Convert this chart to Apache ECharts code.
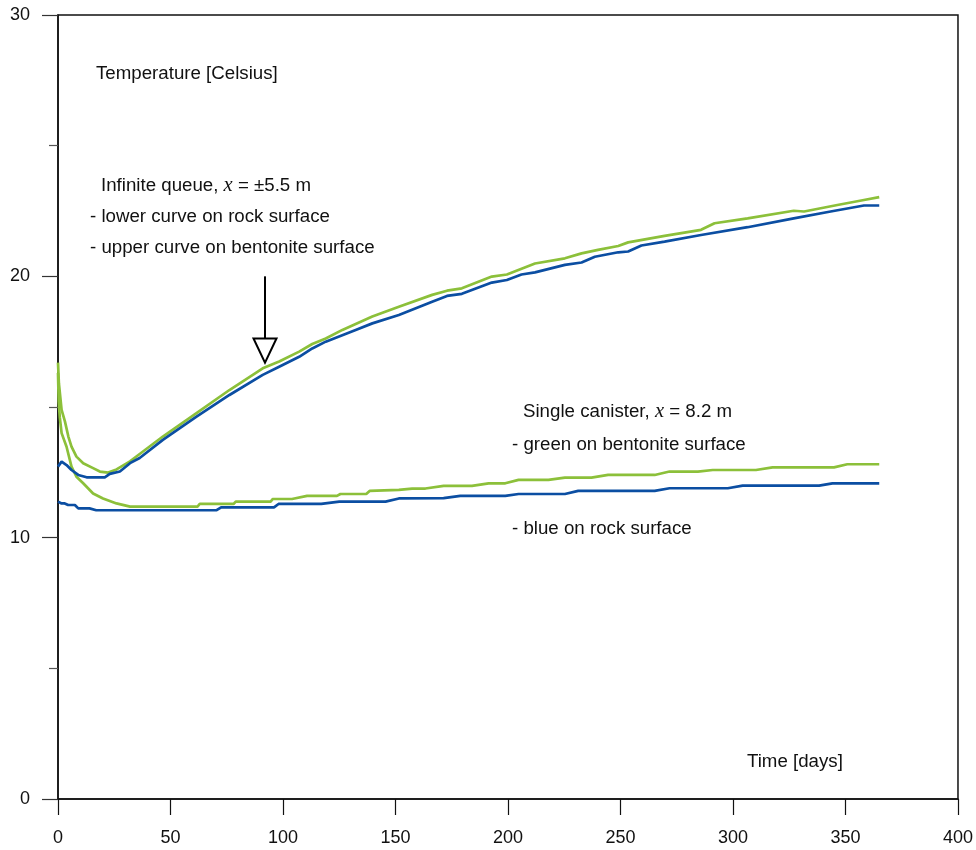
<!DOCTYPE html>
<html>
<head>
<meta charset="utf-8">
<script src="https://cdn.jsdelivr.net/npm/echarts@6/dist/echarts.min.js"></script>
<style>
  html, body { margin: 0; padding: 0; background: #fff; }
  #chart { width: 976px; height: 850px; }
</style>
</head>
<body>
<div id="chart"></div>
<script>
// Axis ranges and ticks
const xTicks = [0, 50, 100, 150, 200, 250, 300, 350, 400];
const yTicks = [0, 10, 20, 30];

// Infinite queue, x = ±5.5 m — bentonite surface (green, upper curve)
const queueBentonite = [
  [0, 16.7], [0.4, 15.9], [1.6, 14.89], [3.1, 14.44], [4.6, 13.87], [6, 13.48],
  [8.2, 13.1], [11.2, 12.85], [15.6, 12.66], [18.6, 12.53], [22.3, 12.49], [26, 12.61],
  [32, 12.92], [36.3, 13.2], [46.6, 13.87], [61.4, 14.76], [76.2, 15.65], [91, 16.48],
  [98.3, 16.74], [107.2, 17.12], [113, 17.41], [119, 17.62], [126.4, 17.95], [139.7, 18.46],
  [151.5, 18.84], [166.3, 19.29], [172.9, 19.45], [179.5, 19.54], [192.8, 19.99], [199.5, 20.07],
  [212, 20.49], [225.3, 20.69], [232.7, 20.88], [240, 21.01], [249, 21.16], [253.4, 21.3],
  [269.6, 21.55], [285.8, 21.78], [291.8, 22.03], [306.5, 22.22], [327, 22.51], [331.6, 22.48],
  [346.4, 22.73], [358.2, 22.92], [365, 23.03]
];

// Infinite queue — rock surface (blue, lower curve)
const queueRock = [
  [0, 12.72], [1.6, 12.91], [3.8, 12.78], [6, 12.59], [9, 12.4], [12.7, 12.31],
  [20.8, 12.31], [23, 12.44], [27.5, 12.53], [32, 12.85], [36.3, 13.05], [46.6, 13.74],
  [61.4, 14.62], [76.2, 15.46], [91, 16.23], [98.3, 16.54], [107.2, 16.92], [113, 17.24],
  [119, 17.5], [132.3, 17.95], [139.7, 18.2], [151.5, 18.52], [166.3, 19.03], [172.9, 19.25],
  [179.5, 19.33], [192.8, 19.76], [199.5, 19.86], [206, 20.07], [212, 20.15], [225.3, 20.44],
  [232.7, 20.53], [238.6, 20.75], [249, 20.92], [253.4, 20.95], [259.3, 21.18], [269.6, 21.33],
  [285.8, 21.58], [306.5, 21.88], [327, 22.22], [343.4, 22.48], [358.2, 22.71], [365, 22.71]
];

// Single canister, x = 8.2 m — bentonite surface (green)
const canisterBentonite = [
  [0, 16.3], [0.3, 15.2], [0.8, 14.6], [1.6, 14.0], [3.8, 13.48], [6, 12.72],
  [8.2, 12.33], [11.2, 12.08], [15.6, 11.69], [20, 11.5], [26, 11.31], [32, 11.19],
  [62, 11.19], [63, 11.29], [78, 11.29], [79, 11.38], [94.5, 11.38], [95.5, 11.48],
  [104, 11.48], [110.7, 11.6], [124, 11.6], [125.5, 11.67], [137, 11.67], [138.5, 11.79],
  [151.5, 11.83], [157.4, 11.88], [163.3, 11.88], [171.4, 11.98], [184, 11.98], [191.4, 12.08],
  [198.8, 12.08], [204.7, 12.21], [218, 12.21], [225.3, 12.3], [237.1, 12.3], [244.5, 12.4],
  [265.2, 12.4], [271.8, 12.53], [284.4, 12.53], [291, 12.59], [310.2, 12.59], [317.6, 12.69],
  [344.9, 12.69], [350.8, 12.81], [365, 12.81]
];

// Single canister — rock surface (blue)
const canisterRock = [
  [0, 11.38], [1.6, 11.31], [3, 11.31], [4.5, 11.25], [7.5, 11.25], [9, 11.12],
  [14, 11.12], [17, 11.05], [70.5, 11.05], [72.5, 11.16], [96, 11.16], [98, 11.29],
  [117, 11.29], [125, 11.38], [145.6, 11.38], [151.5, 11.5], [171.4, 11.51], [178.8, 11.6],
  [198.8, 11.6], [204.7, 11.67], [225.3, 11.67], [231.2, 11.79], [265.2, 11.79], [271.8, 11.89],
  [297.7, 11.89], [304.3, 11.99], [338.3, 11.99], [344.2, 12.08], [365, 12.08]
];

const GREEN = '#8cc03a';
const BLUE = '#0b4ea2';
const FONT = '"Liberation Sans", Arial, sans-serif';
const NOTE_SIZE = 18.7;

const chart = echarts.init(document.getElementById('chart'), null, { renderer: 'canvas' });

function lineSeries(name, data, color) {
  return {
    name: name,
    type: 'line',
    data: data,
    showSymbol: false,
    symbol: 'none',
    lineStyle: { color: color, width: 2.7 },
    z: color === BLUE ? 3 : 2,
    silent: true
  };
}

const textStyle = { fontFamily: FONT, fontSize: NOTE_SIZE, fill: '#111' };

function label(x, y, text, rich) {
  const style = Object.assign({ text: text }, textStyle);
  if (rich) style.rich = rich;
  return { type: 'text', left: x, top: y, silent: true, style: style };
}

const richX = {
  n: { fontFamily: FONT, fontSize: NOTE_SIZE, color: '#111' },
  i: { fontFamily: '"Liberation Serif", "Times New Roman", serif', fontStyle: 'italic', fontSize: 20.5, color: '#111' }
};

chart.setOption({
  animation: false,
  backgroundColor: '#fff',
  grid: {
    left: 58, right: 15, top: 15, bottom: 51,
    show: true, borderColor: '#111', borderWidth: 1.5, backgroundColor: 'transparent'
  },
  xAxis: {
    type: 'value',
    min: xTicks[0], max: xTicks[xTicks.length - 1], interval: 50,
    axisLine: { show: true, onZero: false, lineStyle: { color: '#111', width: 1.5 } },
    axisTick: { show: true, inside: false, length: 16, lineStyle: { color: '#111', width: 1.2 } },
    axisLabel: { margin: 30, fontFamily: FONT, fontSize: 18, color: '#111' },
    splitLine: { show: false }
  },
  yAxis: {
    type: 'value',
    min: yTicks[0], max: yTicks[yTicks.length - 1], interval: 10,
    axisLine: { show: true, onZero: false, lineStyle: { color: '#111', width: 1.5 } },
    axisTick: { show: true, inside: false, length: 16, lineStyle: { color: '#333', width: 1.2 } },
    minorTick: { show: true, splitNumber: 2, length: 9, lineStyle: { color: '#555', width: 1.2 } },
    axisLabel: { margin: 28, fontFamily: FONT, fontSize: 18, color: '#111' },
    splitLine: { show: false },
    minorSplitLine: { show: false }
  },
  series: [
    lineSeries('Infinite queue, bentonite', queueBentonite, GREEN),
    lineSeries('Single canister, bentonite', canisterBentonite, GREEN),
    lineSeries('Infinite queue, rock', queueRock, BLUE),
    lineSeries('Single canister, rock', canisterRock, BLUE)
  ]
});

// Arrow pointing at the infinite-queue curves, placed in data coordinates
const arrowDay = 92;
const arrowStart = chart.convertToPixel({ gridIndex: 0 }, [arrowDay, 20.0]);
const headBase = chart.convertToPixel({ gridIndex: 0 }, [arrowDay, 17.62]);
const headTip = chart.convertToPixel({ gridIndex: 0 }, [arrowDay, 16.7]);
const halfW = 11.5;

chart.setOption({
  graphic: [
    label(96, 64, 'Temperature [Celsius]'),
    label(101, 176, '{n|Infinite queue, }{i|x}{n| = ±5.5 m}', richX),
    label(90, 207, '- lower curve on rock surface'),
    label(90, 238, '- upper curve on bentonite surface'),
    label(523, 402, '{n|Single canister, }{i|x}{n| = 8.2 m}', richX),
    label(512, 435, '- green on bentonite surface'),
    label(512, 519, '- blue on rock surface'),
    label(747, 752, 'Time [days]'),
    {
      type: 'line',
      silent: true,
      shape: { x1: arrowStart[0], y1: arrowStart[1], x2: headBase[0], y2: headBase[1] },
      style: { stroke: '#000', lineWidth: 2 }
    },
    {
      type: 'polygon',
      silent: true,
      shape: { points: [[headBase[0] - halfW, headBase[1]], [headBase[0] + halfW, headBase[1]], [headTip[0], headTip[1]]] },
      style: { fill: '#fff', stroke: '#000', lineWidth: 2 }
    }
  ]
});
</script>
</body>
</html>
